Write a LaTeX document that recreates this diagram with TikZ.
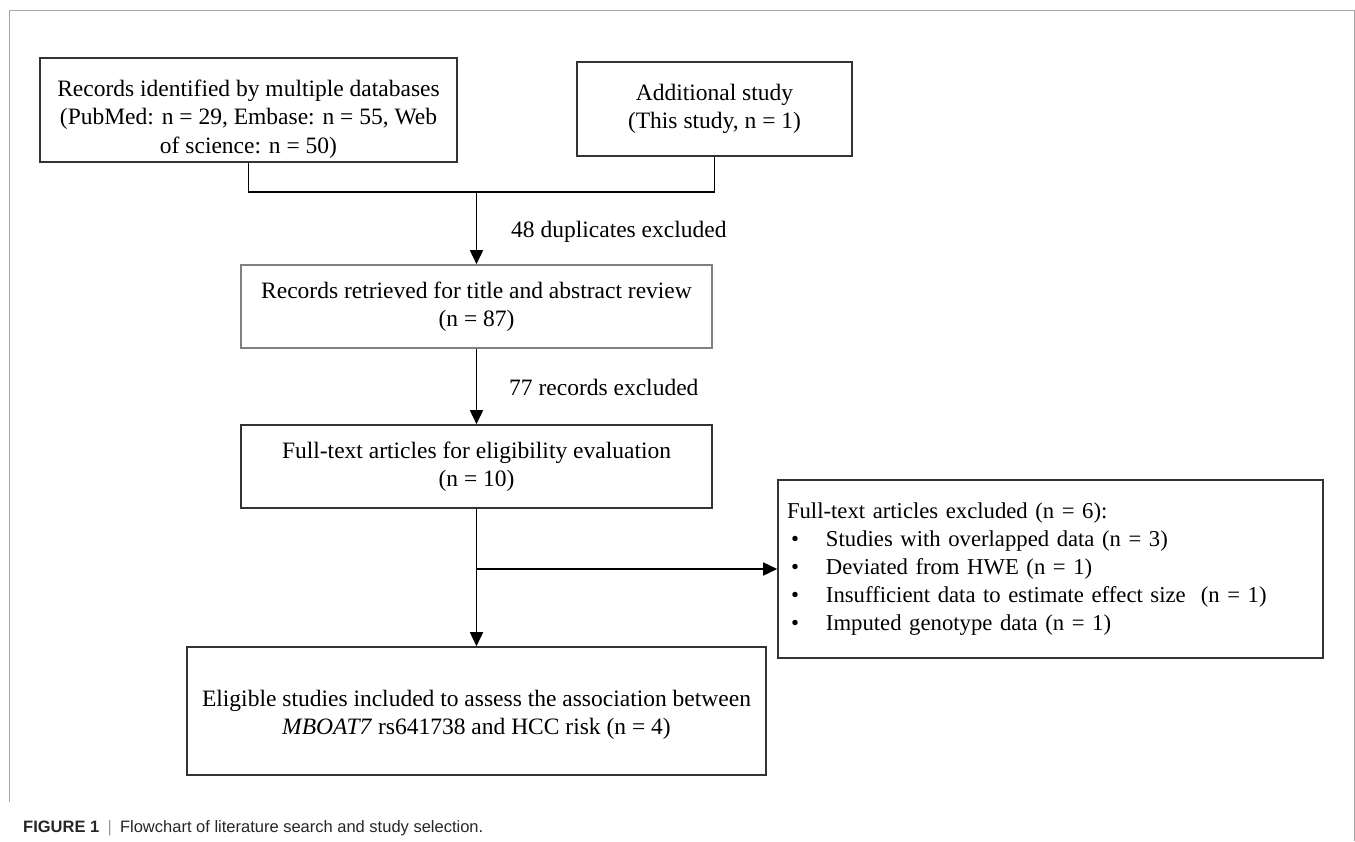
\documentclass[tikz,border=0pt]{standalone}
\usepackage{fontspec}
\setmainfont{Liberation Serif}
\newfontfamily\capfont{Liberation Sans}
\usetikzlibrary{arrows.meta}
\begin{document}
\begin{tikzpicture}[x=1pt,y=-1pt,
  box/.style={draw=black!80, line width=1.6pt, inner sep=0pt, align=center,
    font=\fontsize{23.5}{28.5}\selectfont},
  lightbox/.style={box, draw=black!50},
  conn/.style={line width=1.6pt},
  arr/.style={conn, -{Triangle[length=14pt,width=13pt]}},
  lbl/.style={font=\fontsize{23.5}{28}\selectfont, anchor=west, inner sep=0pt},
  frame/.style={draw=black!35, line width=1pt}]
\useasboundingbox (0,0) rectangle (1355,841);
% outer frame
\draw[frame] (9,802) -- (9,10) -- (1354,10) -- (1354,841);

\node[box, minimum width=417pt, minimum height=104pt] (b1) at (248.5,110)
  {\rule{0pt}{34pt}Records identified by multiple databases\\(PubMed: n = 29, Embase: n = 55, Web\\of science: n = 50)};
\node[box, minimum width=275pt, minimum height=94pt] (b2) at (714.5,109)
  {Additional study\\(This study, n = 1)};
\node[lightbox, minimum width=471pt, minimum height=83pt] (b3) at (476.5,306.5)
  {Records retrieved for title and abstract review\\(n = 87)};
\node[box, minimum width=471pt, minimum height=83pt] (b4) at (476.5,466.5)
  {Full-text articles for eligibility evaluation\\(n = 10)};
\node[box, minimum width=579pt, minimum height=128pt] (b5) at (476.5,711)
  {\rule{0pt}{24pt}Eligible studies included to assess the association between\\\textit{MBOAT7} rs641738 and HCC risk (n = 4)};
\node[box, align=left, text width=527pt, inner xsep=9pt, minimum height=178pt,
  font=\fontsize{22.7}{28}\selectfont] (b6) at (1050.5,569)
  {Full-text articles excluded (n = 6):\\
   \makebox[39pt][l]{\hspace{4pt}\textbullet}Studies with overlapped data (n = 3)\\
   \makebox[39pt][l]{\hspace{4pt}\textbullet}Deviated from HWE (n = 1)\\
   \makebox[39pt][l]{\hspace{4pt}\textbullet}Insufficient data to estimate effect size\ \ (n = 1)\\
   \makebox[39pt][l]{\hspace{4pt}\textbullet}Imputed genotype data (n = 1)};

\coordinate (j1) at (476.5,192);
\coordinate (j2) at (476.5,569);

\draw[conn] (b1.south) |- (j1) -| (b2.south);
\draw[arr] (j1) -- (b3.north);
\draw[arr] (b3.south) -- (b4.north);
\draw[arr] (b4.south) -- (b5.north);
\draw[arr] (j2) -- (b6.west);

\node[lbl] (l1) at (511,232) {48 duplicates excluded};
\node[lbl] (l2) at (509,387) {77 records excluded};

\node[anchor=west, inner sep=0pt, text=black!85, font=\capfont\fontsize{16.5}{20}\selectfont] (cap) at (23,828)
  {\textbf{FIGURE 1}\enspace{\color{black!40}|}\enspace Flowchart of literature search and study selection.};
\end{tikzpicture}
\end{document}
